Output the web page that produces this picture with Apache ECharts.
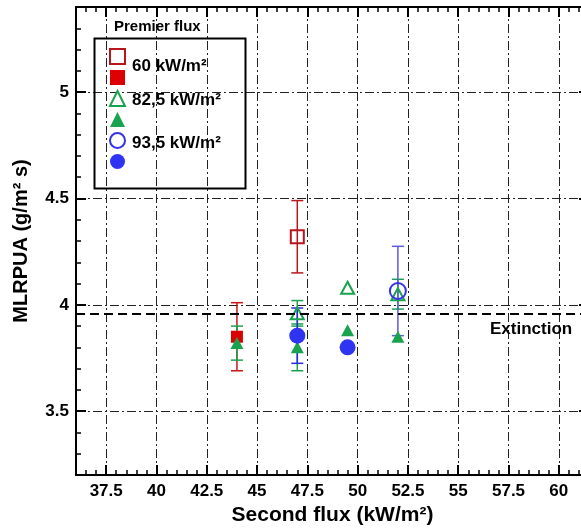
<!DOCTYPE html>
<html><head><meta charset="utf-8">
<script src="https://cdn.jsdelivr.net/npm/echarts@6/dist/echarts.min.js"></script>
<style>html,body{margin:0;padding:0;background:#fff}#c{width:581px;height:530px}</style>
</head><body><div id="c"></div>
<script>
// ---- tick labels ----
const xMajorTicks = [37.5, 40, 42.5, 45, 47.5, 50, 52.5, 55, 57.5, 60];
const yMajorTicks = [3.5, 4, 4.5, 5];
const xMinorStep = 0.5;
const yMinorStep = 0.1;
const extinctionLevel = 3.955;

// ---- data (x = second flux, y = MLRPUA, err = half error bar) ----
const p60OpenX = [47];            const p60OpenY = [4.32];             const p60OpenErr = [0.17];
const p60FillX = [44];            const p60FillY = [3.85];             const p60FillErr = [0.16];
const p82OpenX = [47, 49.5, 52];  const p82OpenY = [3.96, 4.08, 4.05]; const p82OpenErr = [0.06, null, 0.07];
const p82FillX = [44, 47, 49.5, 52]; const p82FillY = [3.82, 3.80, 3.88, 3.85]; const p82FillErr = [0.08, 0.11, null, null];
const p93OpenX = [52];            const p93OpenY = [4.065];            const p93OpenErr = [0.21];
const p93FillX = [47, 49.5];      const p93FillY = [3.855, 3.80];      const p93FillErr = [0.13, null];

const legendLabels = ['60 kW/m²', '82,5 kW/m²', '93,5 kW/m²'];

function minorTicks(min, max, step) {
  const out = [];
  for (let i = Math.ceil(min / step); i * step <= max + 1e-9; i++) out.push(+(i * step).toFixed(3));
  return out;
}
const XMIN = 36, XMAX = 61.5, YMIN = 3.2, YMAX = 5.4;
const xMinorTicks = minorTicks(XMIN, XMAX, xMinorStep);
const yMinorTicks = minorTicks(YMIN, YMAX, yMinorStep);

const FONT = 'Liberation Sans, Arial, sans-serif';
const zip = (xs, ys) => xs.map((x, i) => [x, ys[i]]);
const errData = (xs, ys, es) => xs.map((x, i) => [x, ys[i], es[i]]).filter(d => d[2] != null);

function errSeries(xs, ys, es, color) {
  return {
    type: 'custom', z: 1, silent: true,
    xAxisIndex: 0, yAxisIndex: 0,
    encode: { x: 0, y: 1 },
    data: errData(xs, ys, es),
    renderItem: function (params, api) {
      const x = api.value(0), y = api.value(1), e = api.value(2);
      const t = api.coord([x, y + e]), b = api.coord([x, y - e]);
      const hw = 6;
      const style = { stroke: color, lineWidth: 1.5, fill: null };
      return { type: 'group', children: [
        { type: 'line', shape: { x1: t[0], y1: t[1], x2: b[0], y2: b[1] }, style: style },
        { type: 'line', shape: { x1: t[0] - hw, y1: t[1], x2: t[0] + hw, y2: t[1] }, style: style },
        { type: 'line', shape: { x1: b[0] - hw, y1: b[1], x2: b[0] + hw, y2: b[1] }, style: style }
      ]};
    }
  };
}
function scat(name, xs, ys, symbol, size, itemStyle) {
  return { name: name, type: 'scatter', z: 3, xAxisIndex: 0, yAxisIndex: 0,
    symbol: symbol, symbolSize: size, itemStyle: Object.assign({ opacity: 1 }, itemStyle), data: zip(xs, ys) };
}

const RED_O = '#b8161c', RED_F = '#dd0000', GREEN = '#1aa34e', BLUE_O = '#3434e6', BLUE_F = '#2f33f2';
const CLEAR = 'rgba(255,255,255,0)';

const names = ['60 open', '60 filled', '82,5 open', '82,5 filled', '93,5 open', '93,5 filled'];

const majorTickStyle = { color: '#000', width: 2 };
const minorTickStyle = { color: '#000', width: 1.5 };
function xAx(pos, major, main) {
  return {
    type: 'value', position: pos, min: XMIN, max: XMAX,
    axisLine: { show: major, onZero: false, lineStyle: { color: '#000', width: 2 } },
    axisTick: { show: true, inside: true, length: major ? 10 : 5,
      customValues: major ? xMajorTicks : xMinorTicks, lineStyle: major ? majorTickStyle : minorTickStyle },
    axisLabel: main ? { show: true, customValues: xMajorTicks, margin: 8, fontFamily: FONT, fontWeight: 'bold', fontSize: 17, color: '#000' } : { show: false },
    splitLine: main ? { show: true, lineStyle: { color: '#222', width: 1, type: [9, 3, 2, 3] } } : { show: false },
    name: main ? 'Second flux (kW/m²)' : '', nameLocation: 'middle', nameGap: 30,
    nameTextStyle: { fontFamily: FONT, fontWeight: 'bold', fontSize: 21, color: '#000' }
  };
}
function yAx(pos, major, main) {
  return {
    type: 'value', position: pos, min: YMIN, max: YMAX,
    axisLine: { show: major, onZero: false, lineStyle: { color: '#000', width: 2 } },
    axisTick: { show: true, inside: true, length: major ? 10 : 5,
      customValues: major ? yMajorTicks : yMinorTicks, lineStyle: major ? majorTickStyle : minorTickStyle },
    axisLabel: main ? { show: true, customValues: yMajorTicks, margin: 7, fontFamily: FONT, fontWeight: 'bold', fontSize: 17, color: '#000' } : { show: false },
    splitLine: main ? { show: true, lineStyle: { color: '#222', width: 1, type: [9, 3, 2, 3] } } : { show: false },
    name: main ? 'MLRPUA (g/m² s)' : '', nameLocation: 'middle', nameGap: 45, nameRotate: 90,
    nameTextStyle: { fontFamily: FONT, fontWeight: 'bold', fontSize: 20, color: '#000' }
  };
}

const chart = echarts.init(document.getElementById('c'), null, { renderer: 'canvas' });
chart.setOption({
  animation: false,
  backgroundColor: '#fff',
  grid: { left: 76, top: 7, width: 513, height: 468, containLabel: false, outerBoundsMode: 'none' },
  xAxis: [xAx('bottom', true, true), xAx('bottom', false, false), xAx('top', true, false), xAx('top', false, false)],
  yAxis: [yAx('left', true, true), yAx('left', false, false), yAx('right', true, false), yAx('right', false, false)],
  legend: {
    show: true, orient: 'vertical', left: 109, top: 48, padding: 0, itemWidth: 15, itemHeight: 15, itemGap: 5,
    selectedMode: false, data: names, formatter: function () { return ''; },
    textStyle: { fontSize: 10 }
  },
  series: [
    errSeries(p60OpenX, p60OpenY, p60OpenErr, RED_O),
    errSeries(p60FillX, p60FillY, p60FillErr, '#c81818'),
    errSeries(p82OpenX, p82OpenY, p82OpenErr, GREEN),
    errSeries(p82FillX, p82FillY, p82FillErr, GREEN),
    errSeries(p93OpenX, p93OpenY, p93OpenErr, '#5c5cd8'),
    errSeries(p93FillX, p93FillY, p93FillErr, '#2a2ae8'),
    Object.assign(scat(names[0], p60OpenX, p60OpenY, 'rect', 13, { color: CLEAR, borderColor: RED_O, borderWidth: 2 }), {
      markLine: { silent: true, symbol: 'none', label: { show: false },
        lineStyle: { color: '#000', width: 2, type: [9, 5] }, data: [{ yAxis: extinctionLevel }] }
    }),
    scat(names[1], p60FillX, p60FillY, 'rect', 12, { color: RED_F }),
    scat(names[2], p82OpenX, p82OpenY, 'triangle', [13, 12], { color: CLEAR, borderColor: GREEN, borderWidth: 2 }),
    scat(names[3], p82FillX, p82FillY, 'triangle', [13, 12], { color: GREEN }),
    scat(names[4], p93OpenX, p93OpenY, 'circle', 16, { color: CLEAR, borderColor: BLUE_O, borderWidth: 2 }),
    scat(names[5], p93FillX, p93FillY, 'circle', 16, { color: BLUE_F })
  ],
  graphic: [
    { type: 'rect', left: 92, top: 36, shape: { width: 151, height: 150 }, style: { fill: null, stroke: '#000', lineWidth: 2 }, silent: true, z: 10 },
    { type: 'text', left: 114, top: 19, style: { text: 'Premier flux', font: 'bold 15px ' + FONT, fill: '#000' }, z: 10 },
    { type: 'text', left: 132, top: 58, style: { text: legendLabels[0], font: 'bold 17px ' + FONT, fill: '#000' }, z: 10 },
    { type: 'text', left: 132, top: 92, style: { text: legendLabels[1], font: 'bold 17px ' + FONT, fill: '#000' }, z: 10 },
    { type: 'text', left: 132, top: 135, style: { text: legendLabels[2], font: 'bold 17px ' + FONT, fill: '#000' }, z: 10 },
    { type: 'text', left: 490, top: 321, style: { text: 'Extinction', font: 'bold 17px ' + FONT, fill: '#000' }, z: 10 }
  ]
});
</script></body></html>
